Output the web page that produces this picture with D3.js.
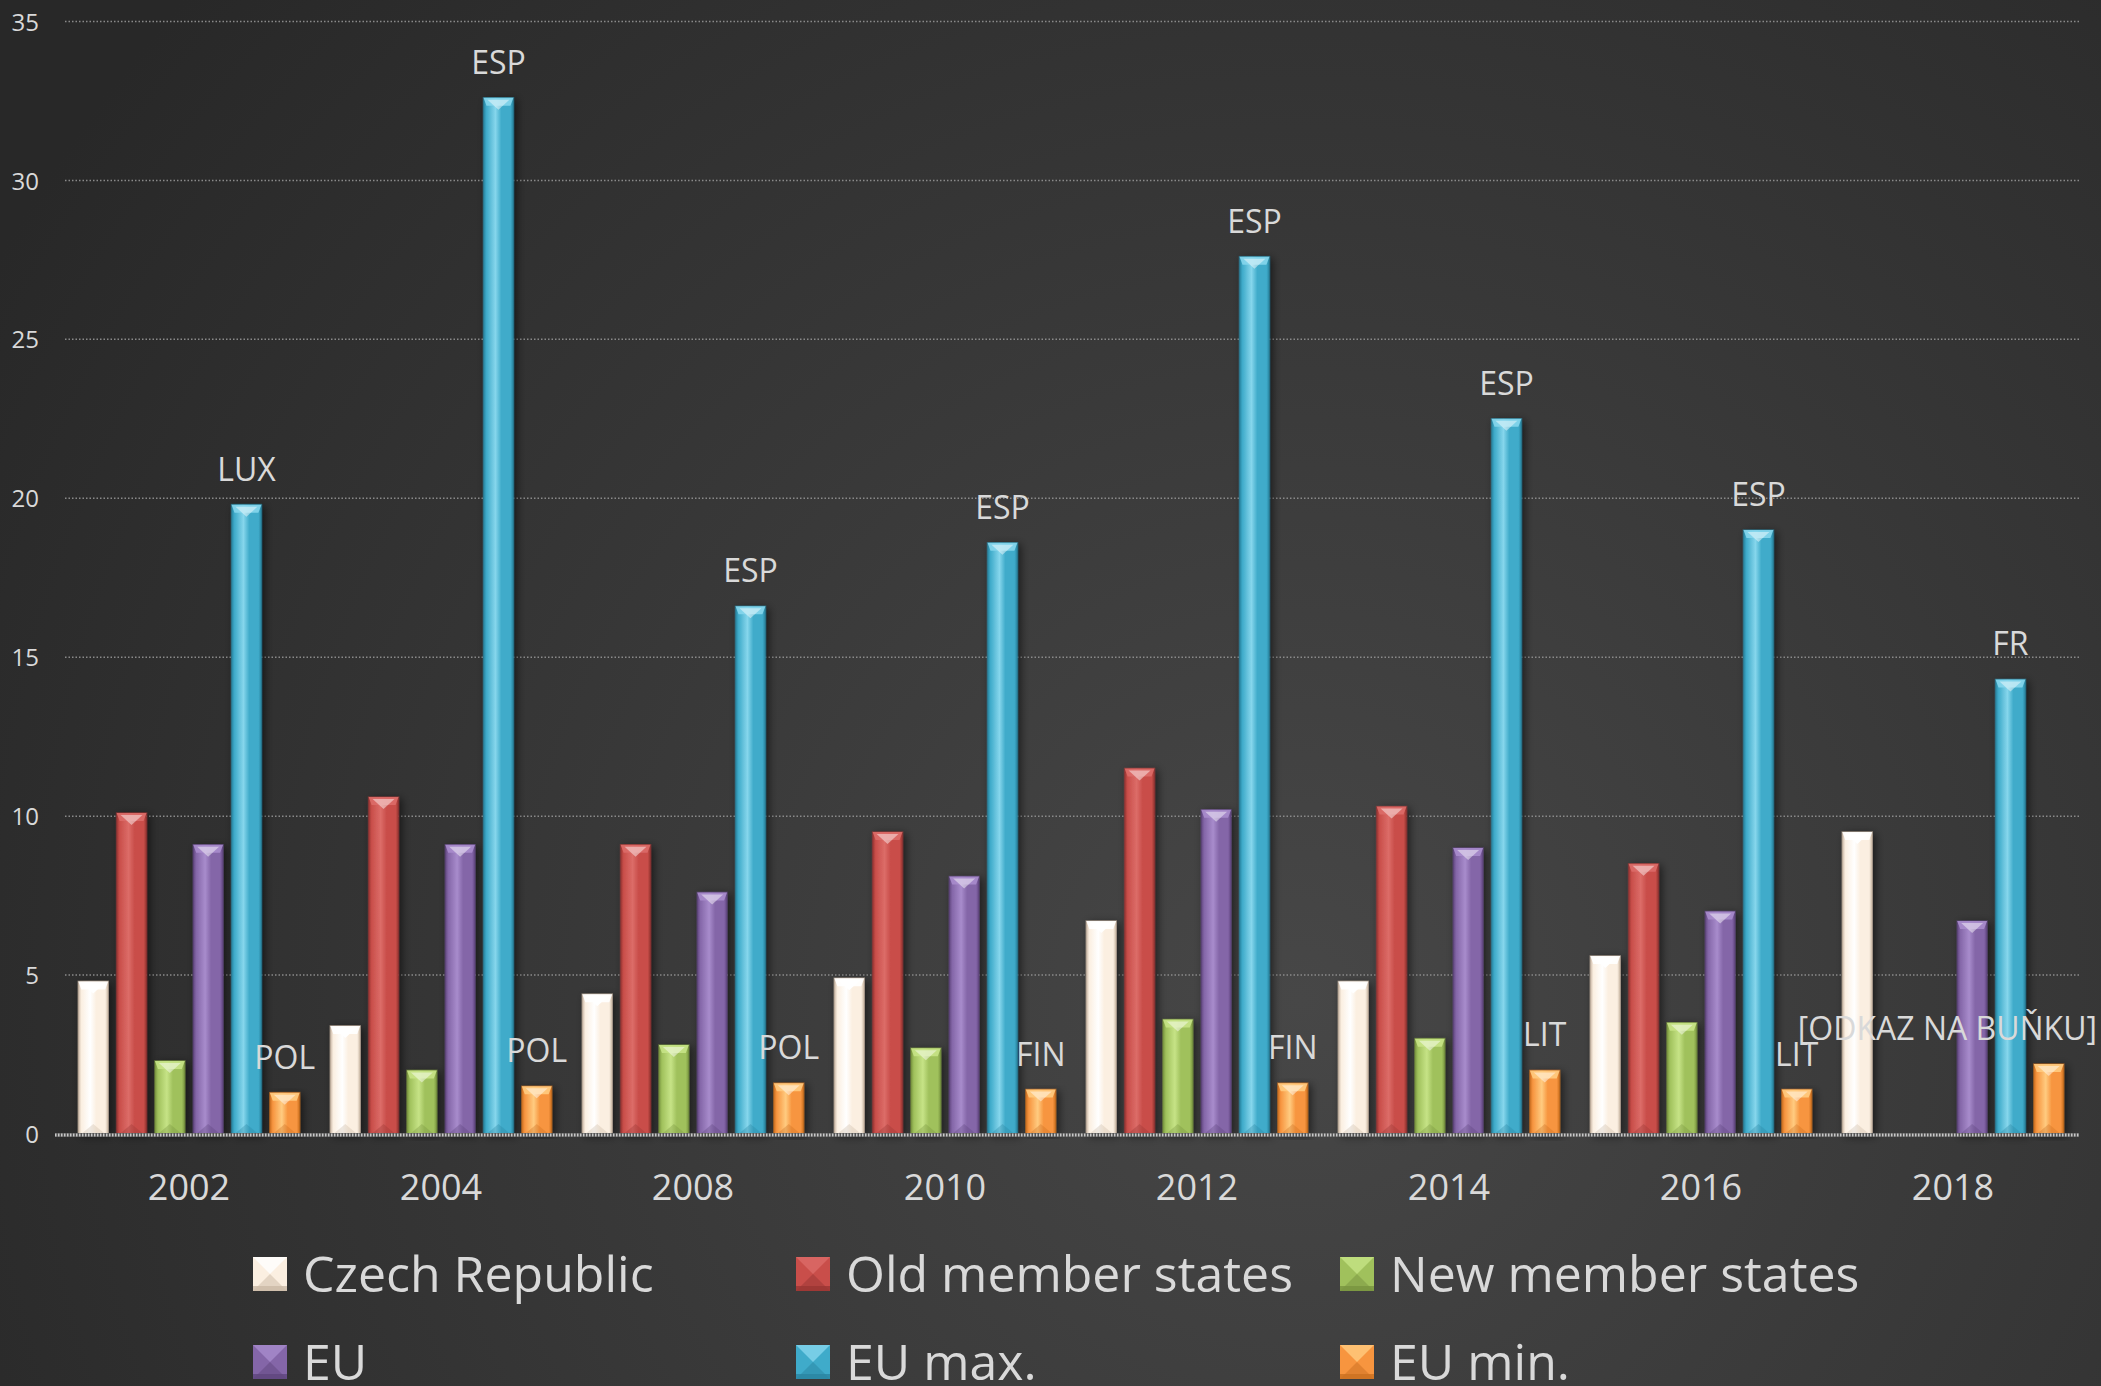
<!DOCTYPE html>
<html>
<head>
<meta charset="utf-8">
<script src="https://cdn.jsdelivr.net/npm/d3@7"></script>
<style>
  html, body { margin: 0; padding: 0; background: #333; }
  svg { display: block; }
  text { font-family: "Open Sans", "Noto Sans", sans-serif; fill: #d9d9d9; }
</style>
</head>
<body>
<svg id="chart" width="2101" height="1386"></svg>
<script>
// ---- data ----
const categories = ["2002", "2004", "2008", "2010", "2012", "2014", "2016", "2018"];
const seriesNames = ["Czech Republic", "Old member states", "New member states", "EU", "EU max.", "EU min."];
const czechRepublic   = [4.8, 3.4, 4.4, 4.9, 6.7, 4.8, 5.6, 9.5];
const oldMemberStates = [10.1, 10.6, 9.1, 9.5, 11.5, 10.3, 8.5, null];
const newMemberStates = [2.3, 2.0, 2.8, 2.7, 3.6, 3.0, 3.5, null];
const euAverage       = [9.1, 9.1, 7.6, 8.1, 10.2, 9.0, 7.0, 6.7];
const euMax           = [19.8, 32.6, 16.6, 18.6, 27.6, 22.5, 19.0, 14.3];
const euMin           = [1.3, 1.5, 1.6, 1.4, 1.6, 2.0, 1.4, 2.2];
const euMaxLabels     = ["LUX", "ESP", "ESP", "ESP", "ESP", "ESP", "ESP", "FR"];
const euMinLabels     = ["POL", "POL", "POL", "FIN", "FIN", "LIT", "LIT", "[ODKAZ NA BUŇKU]"];
const yTicks          = [0, 5, 10, 15, 20, 25, 30, 35];

const seriesValues = [czechRepublic, oldMemberStates, newMemberStates, euAverage, euMax, euMin];
const palette = [
  {base: "#fbefe1", light: "#ffffff", dark: "#cbb9a6"},
  {base: "#c94e4a", light: "#dc6c68", dark: "#9a3633"},
  {base: "#a0c15c", light: "#c6e386", dark: "#789440"},
  {base: "#8466a8", light: "#a88ccc", dark: "#5f467e"},
  {base: "#3fabca", light: "#86d6ec", dark: "#2a86a2"},
  {base: "#f7953f", light: "#ffcb80", dark: "#cc7021"}
];

// ---- layout ----
const W = 2101, H = 1386;
const svg = d3.select("#chart");
const defs = svg.append("defs");

// background
const bg = defs.append("radialGradient").attr("id", "bg")
  .attr("gradientUnits", "userSpaceOnUse")
  .attr("cx", 1300).attr("cy", 1000).attr("r", 1500);
bg.append("stop").attr("offset", "0%").attr("stop-color", "#474747");
bg.append("stop").attr("offset", "100%").attr("stop-color", "#282828");
svg.append("rect").attr("width", W).attr("height", H).attr("fill", "url(#bg)");

// shadow
const f = defs.append("filter").attr("id", "shadow").attr("x", "-50%").attr("y", "-10%").attr("width", "200%").attr("height", "120%");
f.append("feDropShadow").attr("dx", 3).attr("dy", 2).attr("stdDeviation", 4)
  .attr("flood-color", "#000").attr("flood-opacity", 0.55);

palette.forEach((c, i) => {
  const g = defs.append("linearGradient").attr("id", "bar" + i)
    .attr("x1", "0%").attr("x2", "100%").attr("y1", "0%").attr("y2", "0%");
  g.append("stop").attr("offset", "0%").attr("stop-color", c.dark);
  g.append("stop").attr("offset", "10%").attr("stop-color", c.base);
  g.append("stop").attr("offset", "40%").attr("stop-color", c.light).attr("stop-opacity", 1);
  g.append("stop").attr("offset", "60%").attr("stop-color", c.base);
  g.append("stop").attr("offset", "90%").attr("stop-color", c.base);
  g.append("stop").attr("offset", "100%").attr("stop-color", c.dark);
});

const plotLeft = 63, plotRight = 2079;
const y = d3.scaleLinear().domain([0, 35]).range([1134, 21.5]);
const x0 = d3.scaleBand().domain(categories).range([plotLeft, plotRight]).paddingInner(0).paddingOuter(0);
const x1 = d3.scaleBand().domain(d3.range(seriesNames.length)).range([0, x0.bandwidth()])
  .paddingInner(0.22).paddingOuter(0.4);

// gridlines
svg.append("g").selectAll("line").data(yTicks.filter(t => t > 0)).join("line")
  .attr("x1", plotLeft + 2).attr("x2", plotRight)
  .attr("y1", d => y(d)).attr("y2", d => y(d))
  .attr("stroke", "#8a8a8a").attr("stroke-width", 1.5).attr("stroke-dasharray", "1.5,2");

// y axis labels
const yAxis = d3.axisLeft(y).tickValues(yTicks).tickSize(0).tickPadding(0);
const yg = svg.append("g").attr("transform", "translate(39,0)").call(yAxis);
yg.select(".domain").remove();
yg.selectAll("text").attr("font-size", 24).attr("fill", "#d9d9d9")
  .attr("font-family", "Open Sans").attr("dy", "0.36em").attr("text-anchor", "end");

// x axis labels
const xAxis = d3.axisBottom(x0).tickSize(0).tickPadding(0);
const xg = svg.append("g").attr("transform", "translate(0,1134)").call(xAxis);
xg.select(".domain").remove();
xg.selectAll("text").attr("font-size", 36).attr("fill", "#d9d9d9")
  .attr("font-family", "Open Sans").attr("dy", null).attr("y", 66);

// bar drawing helper
function drawBar(g, i, bx, by, bw, bh) {
  const c = palette[i];
  const grp = g.append("g").attr("filter", "url(#shadow)");
  grp.append("rect").attr("x", bx).attr("y", by).attr("width", bw).attr("height", bh)
    .attr("fill", "url(#bar" + i + ")");
  const bev = Math.min(8, bh / 2);
  // edges
  grp.append("rect").attr("x", bx).attr("y", by).attr("width", bw).attr("height", bh)
    .attr("fill", "none").attr("stroke", c.dark).attr("stroke-opacity", 0.6).attr("stroke-width", 1.5);
  // top bevel
  grp.append("polygon")
    .attr("points", [[bx, by], [bx + bw, by], [bx + bw - 3, by + bev], [bx + 3, by + bev]].map(p => p.join(",")).join(" "))
    .attr("fill", c.light).attr("opacity", 0.9);
  grp.append("polygon")
    .attr("points", [[bx + 4, by + 2], [bx + bw - 4, by + 2], [bx + bw / 2, by + bev + 4]].map(p => p.join(",")).join(" "))
    .attr("fill", "#ffffff").attr("opacity", i === 0 ? 0.95 : 0.45);
  // bottom bevel
  grp.append("polygon")
    .attr("points", [[bx + 3, by + bh], [bx + bw - 3, by + bh], [bx + bw / 2, by + bh - Math.min(10, bh / 3)]].map(p => p.join(",")).join(" "))
    .attr("fill", c.dark).attr("opacity", 0.35);
}

const barsG = svg.append("g");
categories.forEach((cat, ci) => {
  seriesValues.forEach((vals, si) => {
    const v = vals[ci];
    if (v == null) return;
    const bx = x0(cat) + x1(si);
    drawBar(barsG, si, bx, y(v), x1.bandwidth(), y(0) - y(v));
  });
});

// zero axis line
svg.append("line").attr("x1", plotLeft - 8).attr("x2", plotRight).attr("y1", y(0) + 1).attr("y2", y(0) + 1)
  .attr("stroke", "#555").attr("stroke-width", 4);
svg.append("line").attr("x1", plotLeft - 8).attr("x2", plotRight).attr("y1", y(0) + 1).attr("y2", y(0) + 1)
  .attr("stroke", "#c8c8c8").attr("stroke-width", 3).attr("stroke-dasharray", "1.5,1.5");

// data labels
const labelsG = svg.append("g");
function addLabels(vals, labels, si) {
  categories.forEach((cat, ci) => {
    const v = vals[ci];
    if (v == null) return;
    const cx = x0(cat) + x1(si) + x1.bandwidth() / 2;
    const t = labelsG.append("text").attr("x", cx).attr("y", y(v) - 24)
      .attr("text-anchor", "middle").attr("font-size", 32).attr("fill", "#d9d9d9").text(labels[ci]);
    const bb = t.node().getBBox();
    if (bb.x + bb.width > W - 4) {
      t.attr("text-anchor", "end").attr("x", W - 4);
    }
  });
}
addLabels(euMax, euMaxLabels, 4);
addLabels(euMin, euMinLabels, 5);

// legend
const legendCols = [253, 796, 1340];
const legendRows = [1292, 1380];
const legendG = svg.append("g");
seriesNames.forEach((name, i) => {
  const lx = legendCols[i % 3], ly = legendRows[Math.floor(i / 3)];
  const c = palette[i];
  const s = 34;
  const mx = lx, my = ly - 35;
  const mg = legendG.append("g");
  mg.append("rect").attr("x", mx).attr("y", my).attr("width", s).attr("height", s).attr("fill", c.base);
  mg.append("polygon").attr("points", [[mx, my], [mx + s, my], [mx + s / 2, my + s / 2]].map(p => p.join(",")).join(" "))
    .attr("fill", c.light).attr("opacity", 0.8);
  mg.append("polygon").attr("points", [[mx, my + s], [mx + s, my + s], [mx + s / 2, my + s / 2]].map(p => p.join(",")).join(" "))
    .attr("fill", c.dark).attr("opacity", 0.5);
  mg.append("rect").attr("x", mx).attr("y", my + s - 5).attr("width", s).attr("height", 5).attr("fill", c.dark).attr("opacity", 0.8);
  legendG.append("text").attr("x", lx + 50).attr("y", ly).attr("font-size", 50).attr("fill", "#d9d9d9").text(name);
});
</script>
</body>
</html>
